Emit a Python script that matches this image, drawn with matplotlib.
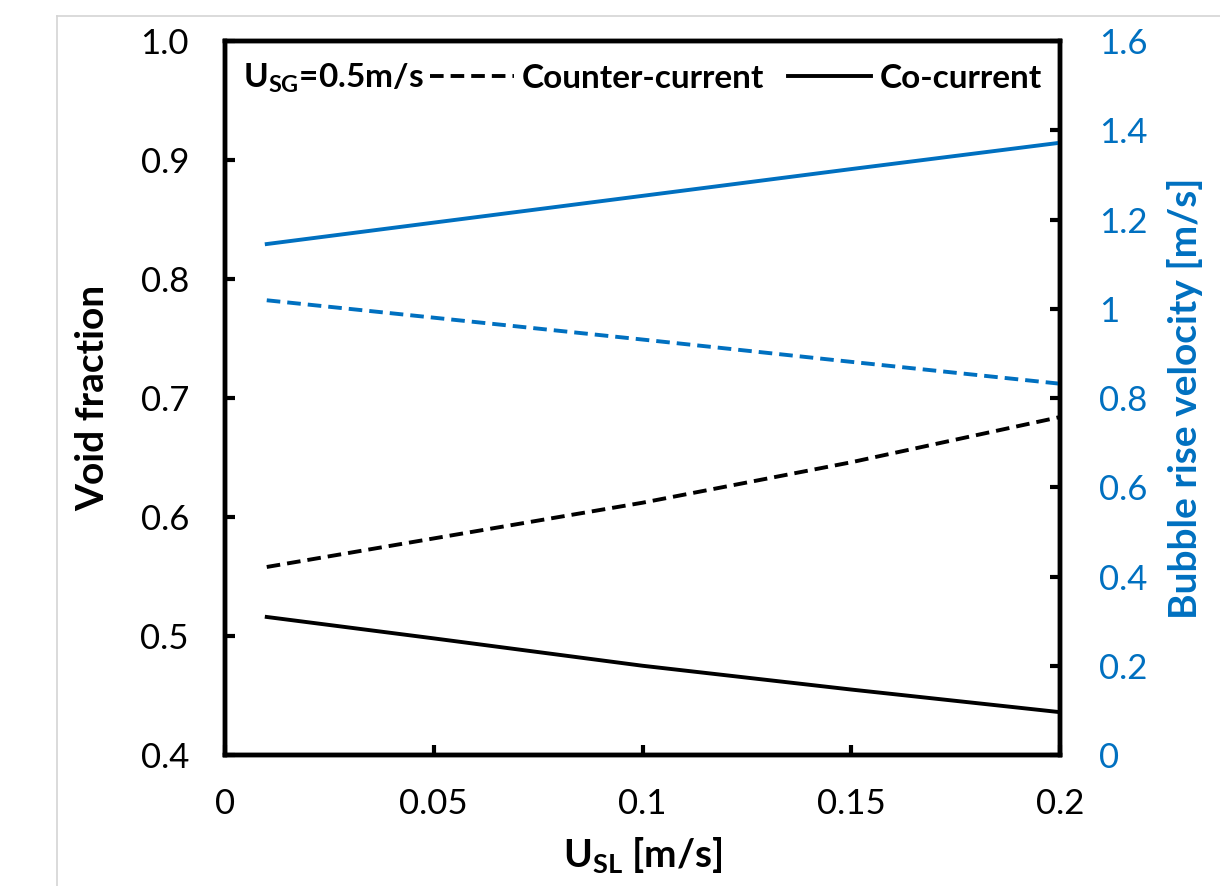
import numpy as np
import matplotlib
matplotlib.use("Agg")
import matplotlib.pyplot as plt
from matplotlib.lines import Line2D

plt.rcParams['font.family'] = ['Lato', 'DejaVu Sans']
plt.rcParams['mathtext.fontset'] = 'custom'
plt.rcParams['mathtext.rm'] = 'Lato'
plt.rcParams['mathtext.bf'] = 'Lato:bold'

# data
usl = [0.01, 0.05, 0.1, 0.15, 0.2]
void_counter = [0.558, 0.582, 0.612, 0.646, 0.684]
void_co = [0.516, 0.498, 0.475, 0.455, 0.436]
vel_co = [1.145, 1.193, 1.253, 1.313, 1.372]
vel_counter = [1.019, 0.980, 0.931, 0.881, 0.832]

xticks = [0, 0.05, 0.1, 0.15, 0.2]
xtick_labels = ['0', '0.05', '0.1', '0.15', '0.2']
yticks = [0.4, 0.5, 0.6, 0.7, 0.8, 0.9, 1.0]
y2ticks = [0, 0.2, 0.4, 0.6, 0.8, 1.0, 1.2, 1.4, 1.6]
y2tick_labels = ['0', '0.2', '0.4', '0.6', '0.8', '1', '1.2', '1.4', '1.6']

blue = '#0070C0'
lw = 2.8
dash = (0, (3.5, 1.8))

W, H = 1220, 886
fig = plt.figure(figsize=(W / 100, H / 100), dpi=100)
ax = fig.add_axes([225 / W, 1 - 755 / H, 835 / W, 714 / H])
ax2 = ax.twinx()

ax.plot(usl, void_counter, color='black', lw=lw, linestyle=dash)
ax.plot(usl, void_co, color='black', lw=lw)
ax2.plot(usl, vel_co, color=blue, lw=lw)
ax2.plot(usl, vel_counter, color=blue, lw=lw, linestyle=dash)

ax.set_xlim(0, 0.2)
ax.set_ylim(0.4, 1.0)
ax2.set_ylim(0, 1.6)
ax.set_xticks(xticks)
ax.set_xticklabels(xtick_labels)
ax.set_yticks(yticks)
ax.set_yticklabels(['%.1f' % v for v in yticks])
ax2.set_yticks(y2ticks)
ax2.set_yticklabels(y2tick_labels)

for a in (ax, ax2):
    for s in a.spines.values():
        s.set_linewidth(3.2)
        s.set_color('black')
ax.tick_params(axis='both', direction='in', length=7, width=3.0, labelsize=25, pad=24)
ax.tick_params(axis='y', pad=26)
ax2.tick_params(axis='y', direction='in', length=7, width=3.0, labelsize=25,
                labelcolor=blue, pad=28)

ax.set_ylabel('Void fraction', fontsize=28, fontweight='bold')
ax.yaxis.set_label_coords(-0.137, 0.5)
ax2.set_ylabel('Bubble rise velocity [m/s]', fontsize=28, fontweight='bold', color=blue)
ax2.yaxis.set_label_coords(1.128, 0.5)
ax.set_xlabel(r'$\mathbf{U_{SL}}$ [m/s]', fontsize=28, fontweight='bold')
ax.xaxis.set_label_coords(0.5, -0.112)

ax.text(0.022, 0.948, r'$\mathbf{U_{SG}}$=0.5m/s', transform=ax.transAxes,
        fontsize=24, fontweight='bold', va='center', ha='left')
handles = [Line2D([], [], color='black', lw=lw, linestyle=dash),
           Line2D([], [], color='black', lw=lw)]
ax.legend(handles, ['Counter-current', 'Co-current'], ncol=2, frameon=False,
          loc='center right', bbox_to_anchor=(1.0, 0.948),
          prop={'size': 24, 'weight': 'bold'}, handlelength=2.5,
          handletextpad=0.25, columnspacing=0.7, borderaxespad=0.15)

# light grey frame edge from the screenshot
fig.add_artist(Line2D([57 / W, 57 / W], [0, 1 - 16 / H], transform=fig.transFigure,
                      color='#d4d4d4', lw=1.2))
fig.add_artist(Line2D([57 / W, 1], [1 - 16 / H, 1 - 16 / H], transform=fig.transFigure,
                      color='#d4d4d4', lw=1.2))

fig.savefig('out.png', dpi=100)
